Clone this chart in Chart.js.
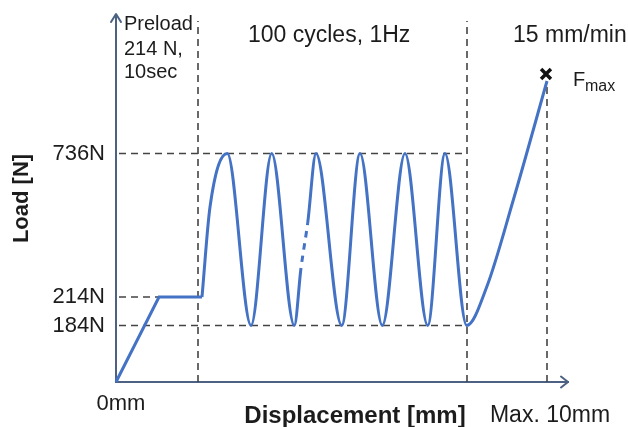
<!DOCTYPE html>
<html><head><meta charset="utf-8">
<script src="https://cdn.jsdelivr.net/npm/chart.js@4/dist/chart.umd.min.js"></script>
<style>html,body{margin:0;padding:0;background:#fff;}canvas{display:block;}</style>
</head><body>
<canvas id="c" width="628" height="427"></canvas>
<script>
// ---- schematic data (load/displacement in schematic units) ----
const loadTickLabels = ['184N', '214N', '736N'];
const loadTickLevels = [56.5, 85, 228.5];
const dispTickLabels = ['0mm', 'Max. 10mm'];
const dispTickValues = [0, 431];

const preloadDisp = [0, 43, 86];
const preloadLoad = [0, 85, 85];

const cycleDisp = [86, 94, 111.3, 135, 155.7, 178.3, 185, 191.7, 200, 225.7, 244, 266.3, 289, 311.7, 329, 350.7, 370.7, 397.3, 431];
const cycleLoad = [85, 175, 228.5, 56.5, 228.5, 56.5, 114, 159, 228.5, 56.5, 228.5, 56.5, 228.5, 56.5, 228.5, 56.5, 95, 182, 301];
const dashedSegmentIndex = 6;

const phaseBoundaryDisp = [82, 351, 431];
const phaseBoundaryTop = [361, 361, 298];
const guideStartDisp = 3;
const guideEndDisp = [351, 43, 351];   // for 184N, 214N, 736N

const fmaxDisp = [430];
const fmaxLoad = [308];

const phaseTitles = ['100 cycles, 1Hz', '15 mm/min'];
const preloadText = ['Preload', '214 N,', '10sec'];

// ---- styling ----
const BLUE = '#4472C4', AXIS = '#4d6282', TEXT = '#1c1c1c', GUIDE = '#444';
const FONT = '"Liberation Sans", Arial, Helvetica, sans-serif';
Chart.defaults.font.family = FONT;

const pts = (xs, ys) => xs.map((v, i) => ({x: v, y: ys[i]}));
const guide = (data) => ({data, borderColor: GUIDE, borderWidth: 1.6, borderDash: [7, 5], pointRadius: 0, tension: 0, clip: false});

const datasets = [
  {data: pts(preloadDisp, preloadLoad), borderColor: BLUE, borderWidth: 3, pointRadius: 0, tension: 0, clip: false},
  {data: pts(cycleDisp, cycleLoad), borderColor: BLUE, borderWidth: 3, pointRadius: 0, cubicInterpolationMode: 'monotone', clip: false,
   segment: {
     borderDash: c => c.p0DataIndex === dashedSegmentIndex ? [6.5, 6] : undefined,
     borderDashOffset: c => c.p0DataIndex === dashedSegmentIndex ? 6.5 : undefined
   }},
  {data: pts(fmaxDisp, fmaxLoad), showLine: false, pointStyle: 'crossRot', pointRadius: 7, pointBorderWidth: 3.5, pointBorderColor: '#111', borderColor: '#111', clip: false}
];
loadTickLevels.forEach((lv, i) => datasets.push(guide([{x: guideStartDisp, y: lv}, {x: guideEndDisp[i], y: lv}])));
phaseBoundaryDisp.forEach((d, i) => datasets.push(guide([{x: d, y: 0}, {x: d, y: phaseBoundaryTop[i]}])));

const overlay = {
  id: 'overlay',
  beforeDraw(chart) {
    const ctx = chart.ctx;
    ctx.save(); ctx.fillStyle = '#fff'; ctx.fillRect(0, 0, chart.width, chart.height); ctx.restore();
  },
  afterDraw(chart) {
    const {ctx, chartArea: a, scales: {x, y}} = chart;
    const x0 = x.getPixelForValue(0), y0 = y.getPixelForValue(0);
    ctx.save();
    ctx.strokeStyle = AXIS; ctx.lineWidth = 2; ctx.lineCap = 'round'; ctx.lineJoin = 'round';
    ctx.beginPath(); ctx.moveTo(x0 - 5, a.top + 7); ctx.lineTo(x0, a.top - 1); ctx.lineTo(x0 + 5, a.top + 7); ctx.stroke();
    ctx.beginPath(); ctx.moveTo(a.right - 7, y0 - 5.5); ctx.lineTo(a.right, y0); ctx.lineTo(a.right - 7, y0 + 5.5); ctx.stroke();

    ctx.fillStyle = TEXT; ctx.textAlign = 'left'; ctx.textBaseline = 'alphabetic';
    ctx.font = '20px ' + FONT;
    [30, 55, 78].forEach((by, i) => ctx.fillText(preloadText[i], x0 + 8, by));
    ctx.font = '23px ' + FONT;
    ctx.fillText(phaseTitles[0], 248, 42);
    ctx.fillText(phaseTitles[1], 513, 42);
    ctx.font = '20px ' + FONT;
    ctx.fillText('F', 573, 86);
    ctx.font = '16px ' + FONT;
    ctx.fillText('max', 585, 91);
    ctx.textAlign = 'center';
    ctx.font = '22px ' + FONT;
    ctx.fillText(dispTickLabels[0], x.getPixelForValue(dispTickValues[0]) + 5, 410);
    ctx.font = '23px ' + FONT;
    ctx.fillText(dispTickLabels[1], x.getPixelForValue(dispTickValues[1]) + 3, 422);
    ctx.font = 'bold 24px ' + FONT;
    ctx.fillText('Displacement [mm]', 355, 423);
    ctx.restore();
  }
};

new Chart(document.getElementById('c'), {
  type: 'line',
  data: {datasets},
  options: {
    responsive: false,
    animation: false,
    devicePixelRatio: 1,
    layout: {padding: {top: 15, right: 60, bottom: 0, left: 0}},
    plugins: {legend: {display: false}, tooltip: {enabled: false}},
    scales: {
      x: {
        type: 'linear', min: 0, max: 452,
        grid: {display: false, drawTicks: false},
        border: {display: true, color: AXIS, width: 2},
        ticks: {display: false},
        afterFit: s => { s.height = 45; s.paddingLeft = 0; s.paddingRight = 0; }
      },
      y: {
        type: 'linear', min: 0, max: 367,
        grid: {display: false, drawTicks: false},
        border: {display: true, color: AXIS, width: 2},
        afterBuildTicks: s => { s.ticks = loadTickLevels.map(v => ({value: v})); },
        ticks: {
          padding: 11, color: TEXT, font: {size: 22},
          callback: v => loadTickLabels[loadTickLevels.indexOf(v)]
        },
        title: {display: true, text: 'Load [N]', color: TEXT, font: {size: 22, weight: 'bold'}, padding: {top: 9, bottom: 0}},
        afterFit: s => { s.width = 116; s.paddingTop = 0; s.paddingBottom = 0; }
      }
    }
  },
  plugins: [overlay]
});
</script>
</body></html>
